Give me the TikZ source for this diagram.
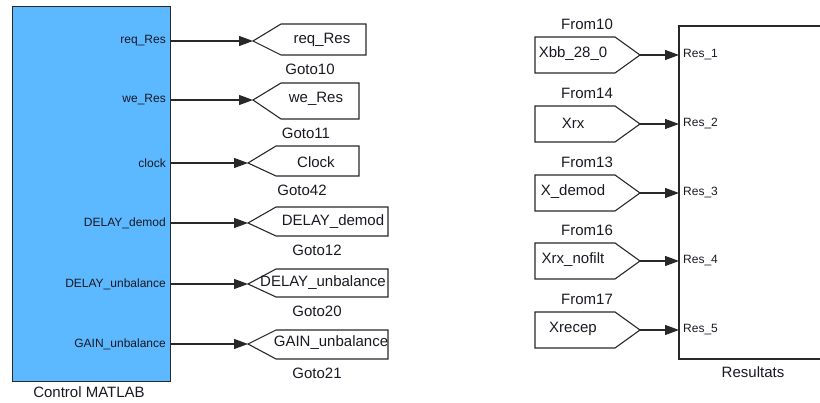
\documentclass[tikz,border=0pt]{standalone}
\usepackage{fontspec}
\setmainfont{Liberation Sans}
\usetikzlibrary{arrows.meta}
\definecolor{blockblue}{RGB}{92,184,255}
\definecolor{edge}{RGB}{40,40,40}
\definecolor{txt}{RGB}{25,25,35}
\tikzset{
  sig/.style={draw=edge, line width=1.2pt, -{Triangle[length=14pt,width=10pt]}},
  frame/.style={draw=edge, line width=1.4pt},
  tagshape/.style={draw=edge, line width=1.1pt},
  lbl/.style={inner sep=0pt, text=txt, font=\fontsize{15}{17}\selectfont},
  portlbl/.style={inner sep=0pt, text=txt, font=\fontsize{12}{14}\selectfont},
}
\begin{document}
\begin{tikzpicture}[x=1pt,y=-1pt]
\useasboundingbox (0,0) rectangle (820,403);
\clip (0,0) rectangle (820,403);

% Control MATLAB subsystem
\node[frame, fill=blockblue, minimum width=158pt, minimum height=375pt, anchor=north west, inner sep=0pt] (ctrl) at (12,6) {};
\node[lbl] (ctrlname) at (89,392) {Control MATLAB};

% output ports of the subsystem
\foreach \n/\y/\t in {1/41/req\_Res, 2/100/we\_Res, 3/163/clock, 4/223/DELAY\_demod, 5/284/DELAY\_unbalance, 6/344/GAIN\_unbalance}{
  \coordinate (out\n) at (170,\y);
  \node[portlbl, anchor=east] (outlbl\n) at (166,\y) {\t};
}

% Goto blocks: index / tip x / y / top / bottom / right edge / tag x / name x / tag / name
\foreach \n/\tx/\y/\top/\bot/\rx/\lx/\gx/\tag/\name in {
  1/253/41/24/55/366/322/310/req\_Res/Goto10,
  2/253/100/83/119/359/316/306/we\_Res/Goto11,
  3/248/163/146/176/359/316/302/Clock/Goto42,
  4/248/223/207/236/388/333/317/DELAY\_demod/Goto12,
  5/248/284/269/297/388/323/317/DELAY\_unbalance/Goto20,
  6/248/344/330/359/388/331/317/GAIN\_unbalance/Goto21}{
  \coordinate (goto\n) at (\tx,\y);
  \draw[tagshape] (goto\n) -- (\tx+28,\top) -- (\rx,\top) -- (\rx,\bot) -- (\tx+28,\bot) -- cycle;
  \node[lbl] (gototag\n) at (\lx,\y-1) {\tag};
  \node[lbl] (gotoname\n) at (\gx,\bot+14) {\name};
  \draw[sig] (out\n) -- (goto\n);
}

% Resultats subsystem (right side runs past the page edge)
\draw[frame] (830,26) -- (679,26) -- (679,359) -- (830,359);
\node[lbl] (resname) at (753,372) {Resultats};

% From blocks and input ports
\foreach \n/\y/\tag/\name in {1/55/Xbb\_28\_0/From10, 2/124/Xrx/From14, 3/193/X\_demod/From13, 4/261/Xrx\_nofilt/From16, 5/330/Xrecep/From17}{
  \coordinate (from\n) at (640,\y);
  \coordinate (in\n) at (679,\y);
  \draw[tagshape] (from\n) -- (615,\y-18) -- (535,\y-18) -- (535,\y+18) -- (615,\y+18) -- cycle;
  \node[lbl] (fromtag\n) at (573,\y-1) {\tag};
  \node[lbl] (fromname\n) at (587,\y-31) {\name};
  \node[portlbl, anchor=west] (inlbl\n) at (683,\y) {Res\_\n};
  \draw[sig] (from\n) -- (in\n);
}
\end{tikzpicture}
\end{document}
